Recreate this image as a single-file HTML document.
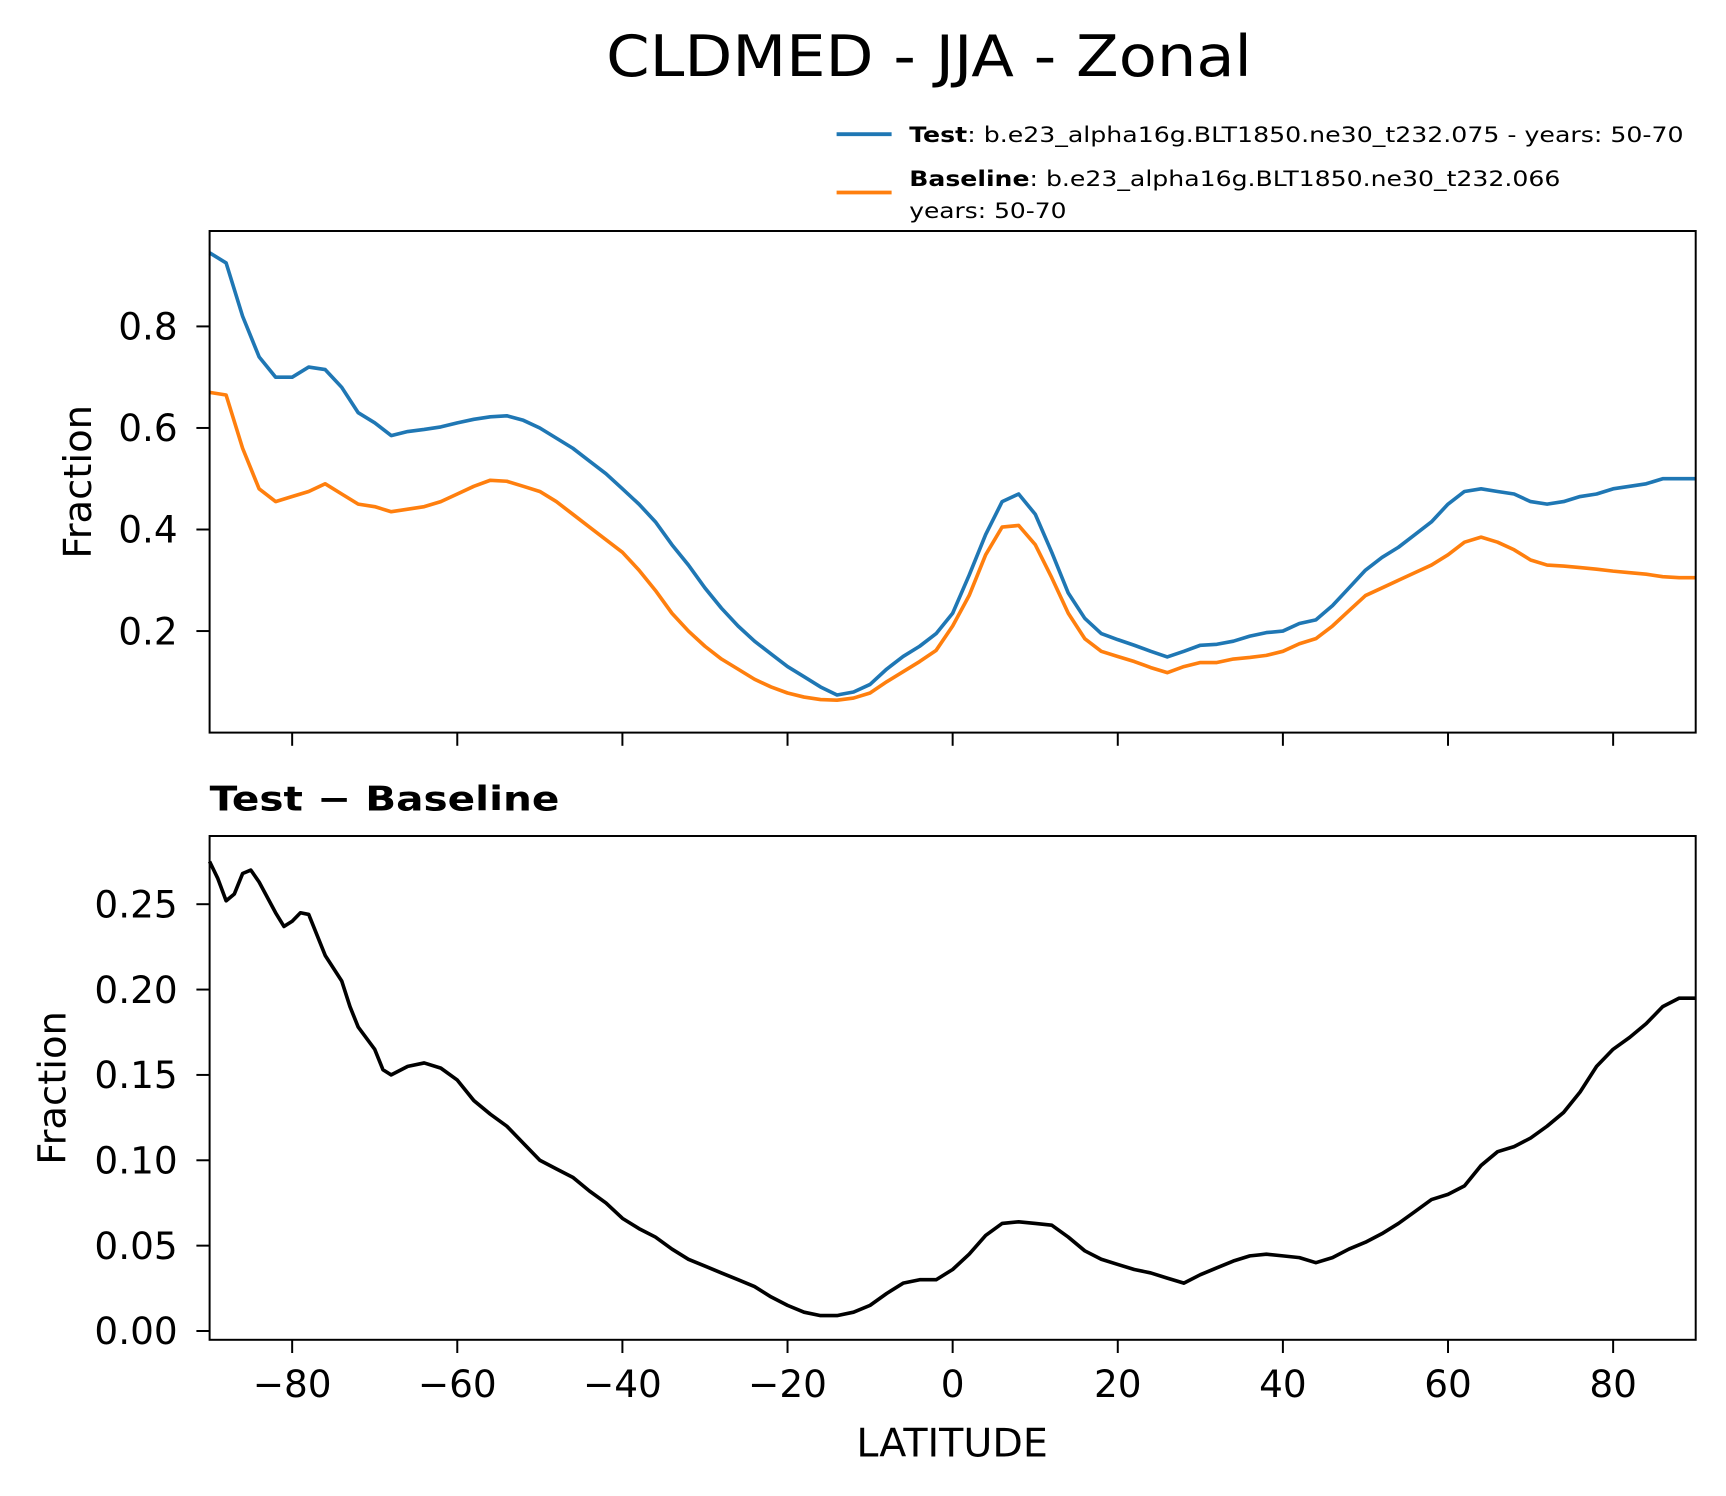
<!DOCTYPE html>
<html><head><meta charset="utf-8"><style>
html,body{margin:0;padding:0;background:#fff;}
svg{display:block;font-family:"DejaVu Sans","Liberation Sans",sans-serif;}
</style></head><body>
<svg id="fig" width="1726" height="1496" viewBox="0 0 1568 1360" xmlns="http://www.w3.org/2000/svg">
<text x="844" y="69" font-size="52" text-anchor="middle" textLength="587" lengthAdjust="spacingAndGlyphs">CLDMED - JJA - Zonal</text>
<g>
  <line x1="760" y1="122" x2="810" y2="122" stroke="#1f77b4" stroke-width="3.5"/>
  <text x="826" y="129" font-size="19" textLength="704" lengthAdjust="spacingAndGlyphs"><tspan font-weight="bold">Test</tspan>: b.e23_alpha16g.BLT1850.ne30_t232.075 - years: 50-70</text>
  <line x1="760" y1="175" x2="810" y2="175" stroke="#ff7f0e" stroke-width="3.5"/>
  <text x="826" y="169" font-size="19" textLength="592" lengthAdjust="spacingAndGlyphs"><tspan font-weight="bold">Baseline</tspan>: b.e23_alpha16g.BLT1850.ne30_t232.066</text>
  <text x="826" y="198" font-size="19" textLength="143" lengthAdjust="spacingAndGlyphs">years: 50-70</text>
</g>
<g id="top"></g>
<text x="190" y="737" font-size="31" font-weight="bold" textLength="318" lengthAdjust="spacingAndGlyphs">Test − Baseline</text>
<g id="bot"></g>
<text x="865" y="1324" font-size="36" text-anchor="middle">LATITUDE</text>
</svg>
<script>
const lat2 = [-90,-88,-86,-84,-82,-80,-78,-76,-74,-72,-70,-68,-66,-64,-62,-60,-58,-56,-54,-52,-50,-48,-46,-44,-42,-40,-38,-36,-34,-32,-30,-28,-26,-24,-22,-20,-18,-16,-14,-12,-10,-8,-6,-4,-2,0,2,4,6,8,10,12,14,16,18,20,22,24,26,28,30,32,34,36,38,40,42,44,46,48,50,52,54,56,58,60,62,64,66,68,70,72,74,76,78,80,82,84,86,88,90];
const testVals = [.945,.925,.82,.74,.70,.70,.72,.715,.68,.63,.61,.585,.593,.597,.602,.61,.617,.622,.624,.615,.60,.58,.56,.535,.51,.48,.45,.415,.37,.33,.285,.245,.21,.18,.155,.13,.11,.09,.074,.08,.095,.125,.15,.17,.195,.235,.31,.39,.455,.47,.43,.355,.275,.225,.195,.183,.172,.16,.149,.16,.172,.174,.18,.19,.197,.20,.215,.222,.25,.285,.32,.345,.365,.39,.415,.45,.475,.48,.475,.47,.455,.45,.455,.465,.47,.48,.485,.49,.5,.5,.5];
const baseVals = [.67,.665,.56,.48,.455,.465,.475,.49,.47,.45,.445,.435,.44,.445,.455,.47,.485,.497,.495,.485,.475,.455,.43,.405,.38,.355,.32,.28,.235,.20,.17,.145,.125,.105,.09,.078,.07,.065,.064,.068,.078,.10,.12,.14,.162,.21,.27,.35,.405,.408,.37,.305,.235,.185,.16,.15,.14,.128,.118,.13,.138,.138,.145,.148,.152,.16,.175,.185,.21,.24,.27,.285,.30,.315,.33,.35,.375,.385,.375,.36,.34,.33,.328,.325,.322,.318,.315,.312,.307,.305,.305];
const latD = [-90,-89,-88,-87,-86,-85,-84,-82,-81,-80,-79,-78,-76,-74,-73,-72,-70,-69,-68,-66,-64,-62,-60,-58,-56,-54,-52,-50,-48,-46,-44,-42,-40,-38,-36,-34,-32,-30,-28,-26,-24,-22,-20,-18,-16,-14,-12,-10,-8,-6,-4,-2,0,2,4,6,8,10,12,14,16,18,20,22,24,26,28,30,32,34,36,38,40,42,44,46,48,50,52,54,56,58,60,62,64,66,68,70,72,74,76,78,80,82,84,86,88,90];
const diffVals = [.275,.265,.252,.256,.268,.27,.263,.245,.237,.24,.245,.244,.22,.205,.19,.178,.165,.153,.15,.155,.157,.154,.147,.135,.127,.12,.11,.10,.095,.09,.082,.075,.066,.06,.055,.048,.042,.038,.034,.03,.026,.02,.015,.011,.009,.009,.011,.015,.022,.028,.03,.03,.036,.045,.056,.063,.064,.063,.062,.055,.047,.042,.039,.036,.034,.031,.028,.033,.037,.041,.044,.045,.044,.043,.04,.043,.048,.052,.057,.063,.07,.077,.08,.085,.097,.105,.108,.113,.12,.128,.14,.155,.165,.172,.18,.19,.195,.195];
const xTicks = [-80,-60,-40,-20,0,20,40,60,80];
const xTickLabels = ["−80","−60","−40","−20","0","20","40","60","80"];
const topYTicks = [0.2,0.4,0.6,0.8];
const topYLabels = ["0.2","0.4","0.6","0.8"];
const botYTicks = [0,0.05,0.10,0.15,0.20,0.25];
const botYLabels = ["0.00","0.05","0.10","0.15","0.20","0.25"];

const NS="http://www.w3.org/2000/svg";
const L=190,R=1541;
const xs = v => L + (v+90)/180*(R-L);
function mk(p,tag,attrs){const e=document.createElementNS(NS,tag);for(const k in attrs)e.setAttribute(k,attrs[k]);p.appendChild(e);return e;}
function panel(g,top,bot,ymin,ymax,yt,yl,series,showX,ylabX,prefix){
  const ys=v=>bot-(v-ymin)/(ymax-ymin)*(bot-top);
  series.forEach(s=>{
    const d=s.x.map((v,i)=>(i?'L':'M')+xs(v).toFixed(1)+','+ys(s.y[i]).toFixed(1)).join('');
    const p=mk(g,'path',{d:d,fill:'none',stroke:s.c,'stroke-width':3.3,'stroke-linejoin':'round'});
    
    
  });
  const f=mk(g,'rect',{x:L,y:top,width:R-L,height:bot-top,fill:'none',stroke:'#000','stroke-width':1.8});
  
  
  yt.forEach((v,i)=>{
    const y=ys(v);
    const t=mk(g,'line',{x1:L-12,x2:L,y1:y,y2:y,stroke:'#000','stroke-width':1.8});
    
    
    const tx=mk(g,'text',{x:L-29,y:y+12,'font-size':34,'text-anchor':'end'});tx.textContent=yl[i];
    
    
  });
  xTicks.forEach((v,i)=>{
    const x=xs(v);
    const t=mk(g,'line',{x1:x,x2:x,y1:bot,y2:bot+12,stroke:'#000','stroke-width':1.8});
    
    
    if(showX){const tx=mk(g,'text',{x:x,y:bot+52,'font-size':34,'text-anchor':'middle'});tx.textContent=xTickLabels[i];
      
      }
  });
  const yl2=mk(g,'text',{x:ylabX,y:(top+bot)/2,'font-size':35,'text-anchor':'middle',transform:`rotate(-90 ${ylabX} ${(top+bot)/2})`});
  yl2.textContent='Fraction';
  
  
}
panel(document.getElementById('top'),210,666,0,(676-210)/471.7,topYTicks,topYLabels,
  [{x:lat2,y:testVals,c:'#1f77b4',n:'test-line'},{x:lat2,y:baseVals,c:'#ff7f0e',n:'baseline-line'}],false,82,'top');
panel(document.getElementById('bot'),760,1218,(1210-1218)/1552,(1210-760)/1552,botYTicks,botYLabels,
  [{x:latD,y:diffVals,c:'#000',n:'difference-line'}],true,59,'diff');
</script>
</body></html>
